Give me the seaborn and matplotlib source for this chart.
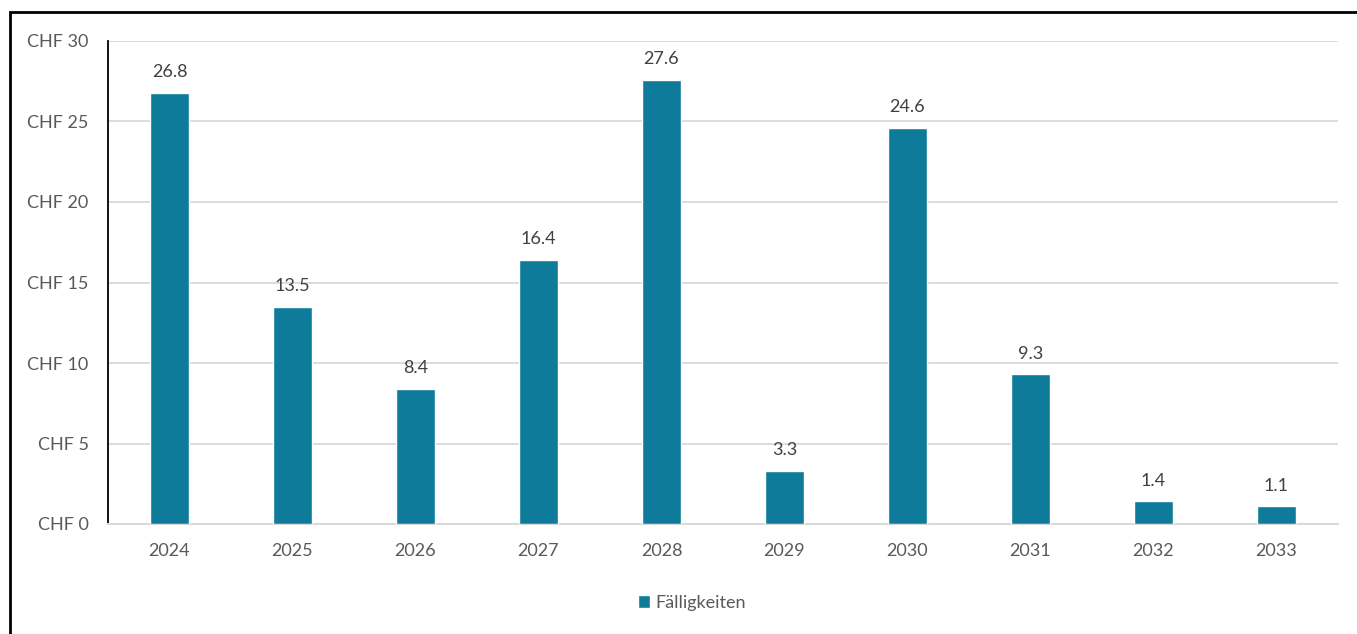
import matplotlib
matplotlib.use("Agg")
import matplotlib.pyplot as plt
import seaborn as sns
import pandas as pd
from matplotlib.patches import Rectangle, Patch

years = ["2024", "2025", "2026", "2027", "2028", "2029", "2030", "2031", "2032", "2033"]
values = [26.8, 13.5, 8.4, 16.4, 27.6, 3.3, 24.6, 9.3, 1.4, 1.1]
series_name = "Fälligkeiten"
yticks = [0, 5, 10, 15, 20, 25, 30]
ytick_labels = ["CHF 0", "CHF 5", "CHF 10", "CHF 15", "CHF 20", "CHF 25", "CHF 30"]

sns.set_theme(style="white")
plt.rcParams['font.family'] = ['Lato', 'DejaVu Sans']

bar_color = "#0e7b9a"
text_color = "#595959"
grid_color = "#d9d9d9"

df = pd.DataFrame({"year": years, "value": values})

fig = plt.figure(figsize=(13.57, 6.34), dpi=100)
ax = fig.add_axes([108/1357, 1-524/634, 1230/1357, 483/634])

sns.barplot(data=df, x="year", y="value", color=bar_color, width=0.31,
            saturation=1, ax=ax, zorder=3)

ax.set_ylim(0, 30)
ax.set_xlim(-0.5, len(years) - 0.5)
ax.set_yticks(yticks)
ax.set_yticklabels(ytick_labels)
ax.set_xlabel("")
ax.set_ylabel("")
ax.yaxis.grid(True, color=grid_color, linewidth=1.3, zorder=0)
ax.tick_params(axis="both", length=0, labelsize=13, colors=text_color)
ax.tick_params(axis="y", pad=14)
ax.tick_params(axis="x", pad=14)
for s in ["top", "right"]:
    ax.spines[s].set_visible(False)
ax.spines["left"].set_color("black")
ax.spines["left"].set_linewidth(1.3)
ax.spines["bottom"].set_color(grid_color)
ax.spines["bottom"].set_linewidth(1.5)

for c in ax.containers:
    ax.bar_label(c, labels=[f"{v:.1f}" for v in values], padding=9,
                 fontsize=13, color="#404040")

leg = fig.legend(handles=[Patch(facecolor=bar_color, label=series_name)],
                 loc="center", bbox_to_anchor=(692/1357, 1-603/634), frameon=False,
                 fontsize=13, handlelength=0.7, handleheight=0.7, handletextpad=0.3)
for t in leg.get_texts():
    t.set_color(text_color)

fig.add_artist(Rectangle((10/1357, -0.1), 1.2, (634 - 12)/634 + 0.1,
                         transform=fig.transFigure, fill=False,
                         edgecolor="black", linewidth=2, zorder=10))

fig.savefig("out.png", dpi=100, facecolor="white")
